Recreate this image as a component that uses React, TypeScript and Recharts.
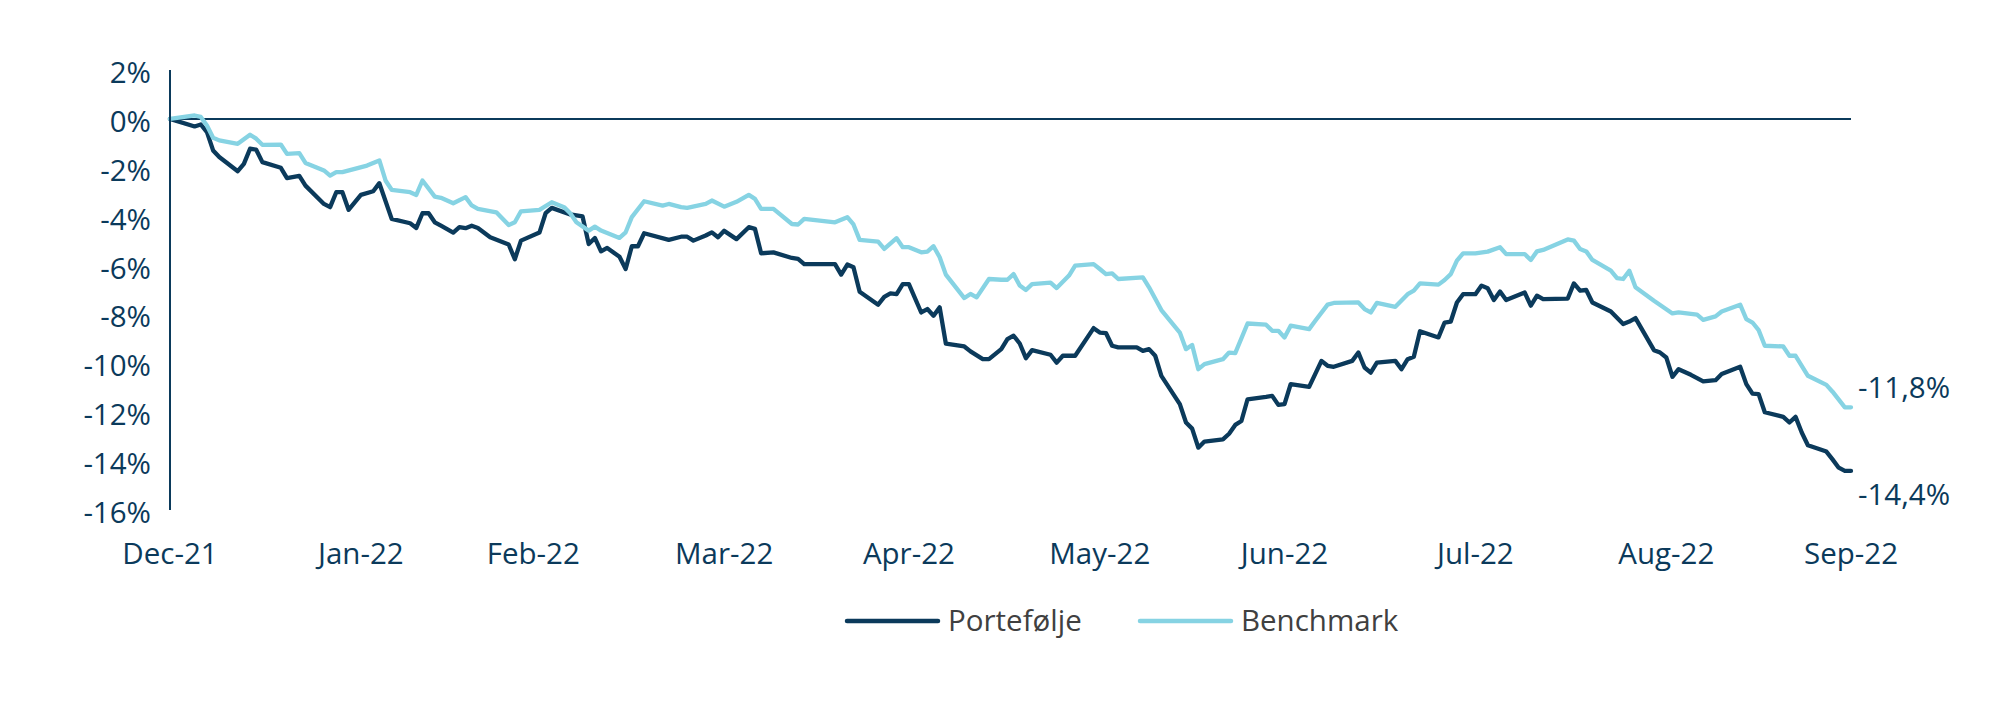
import { LineChart, Line, XAxis, YAxis, ReferenceLine } from 'recharts';

// x positions are days since 31 Dec 2021, values are % return
const monthLabels = ['Dec-21', 'Jan-22', 'Feb-22', 'Mar-22', 'Apr-22', 'May-22', 'Jun-22', 'Jul-22', 'Aug-22', 'Sep-22'];
const monthDays = [0, 31, 59, 90, 120, 151, 181, 212, 243, 273];
const yTicks = [2, 0, -2, -4, -6, -8, -10, -12, -14, -16];

const portDays = [
  0, 4, 5, 6, 7, 8, 11, 12, 13, 14, 15, 18, 19, 21, 22, 25, 26, 27, 28, 29, 31, 33, 34, 36, 39, 40, 41, 42, 43, 44,
  46, 47, 48, 49, 50, 52, 55, 56, 57, 60, 61, 62, 65, 67, 68, 69, 70, 71, 73, 74, 75, 76, 77, 81, 83, 84, 85, 87, 88, 89,
  90, 92, 94, 95, 96, 98, 101, 102, 103, 108, 109, 110, 111, 112, 115, 116, 117, 118, 119, 120, 122, 123, 124, 125, 126, 129, 130, 132, 133,
  135, 136, 137, 138, 139, 140, 143, 144, 145, 147, 150, 151, 152, 153, 154, 157, 158, 159, 160, 161, 164, 165, 166, 167, 168,
  171, 172, 173, 174, 175, 178, 179, 180, 181, 182, 185, 187, 188, 189, 192, 193, 194, 195, 196, 199, 200, 201, 202, 203,
  206, 207, 208, 209, 210, 212, 213, 214, 215, 216, 217, 220, 221, 222, 223, 227, 228, 229, 230, 231, 234, 236, 237, 238,
  241, 242, 243, 244, 245, 247, 249, 251, 252, 255, 256, 257, 258, 259, 262, 263, 264, 265, 266, 269, 270, 271, 272, 273,
];
const portValues = [
  0, -0.31, -0.23, -0.54, -1.29, -1.56, -2.14, -1.84, -1.22, -1.26, -1.77, -2.0, -2.42, -2.33, -2.73, -3.48, -3.61, -3.0, -3.0, -3.72,
  -3.11, -2.96, -2.63, -4.09, -4.27, -4.46, -3.86, -3.86, -4.23, -4.37,
  -4.65, -4.43, -4.47, -4.37, -4.46, -4.84, -5.14, -5.74, -4.98, -4.65, -3.86, -3.64, -3.91, -3.99, -5.12, -4.87, -5.42, -5.28,
  -5.64, -6.14, -5.21, -5.21, -4.68, -4.95, -4.82, -4.82, -4.98, -4.77, -4.64, -4.84,
  -4.58, -4.92, -4.43, -4.5, -5.5, -5.46, -5.69, -5.73, -5.94, -5.94, -6.37, -5.96, -6.07, -7.07, -7.6, -7.28, -7.14, -7.17, -6.76,
  -6.76, -7.92, -7.78, -8.05, -7.71, -9.19, -9.31, -9.51, -9.83, -9.83,
  -9.42, -9.01, -8.87, -9.19, -9.79, -9.46, -9.65, -9.97, -9.69, -9.69, -8.56, -8.74, -8.76, -9.28, -9.35, -9.35, -9.49, -9.42,
  -9.69, -10.51, -11.67, -12.42, -12.67, -13.45, -13.2,
  -13.11, -12.88, -12.52, -12.36, -11.47, -11.37, -11.33, -11.7, -11.67, -10.85, -10.96, -9.9, -10.1, -10.14, -9.9, -9.56,
  -10.17, -10.38, -9.97, -9.9, -10.24, -9.83, -9.73, -8.69,
  -8.94, -8.33, -8.29, -7.51, -7.17, -7.17, -6.82, -6.93, -7.41, -7.06, -7.41, -7.1, -7.64, -7.23, -7.37, -7.35, -6.73, -7.03,
  -7.0, -7.51, -7.88, -8.39, -8.29, -8.15,
  -9.46, -9.56, -9.76, -10.55, -10.24, -10.47, -10.74, -10.69, -10.44, -10.14, -10.85, -11.24, -11.26, -12.0, -12.19, -12.42,
  -12.19, -12.83, -13.35, -13.61, -13.93, -14.27, -14.4, -14.4,
];

const benchDays = [
  0, 4, 5, 6, 7, 8, 11, 13, 14, 15, 18, 19, 21, 22, 25, 26, 27, 28, 32, 34, 35, 36, 39, 40, 41, 43, 44,
  46, 48, 49, 50, 53, 55, 56, 57, 60, 62, 64, 65, 66, 68, 69, 70, 73, 74, 75, 77, 80, 81, 83, 84, 87, 88,
  90, 92, 94, 95, 96, 98, 101, 102, 103, 108, 110, 111, 112, 115, 116, 118, 119, 120, 122, 123, 124, 125, 126, 129, 130, 131, 133,
  135, 136, 137, 138, 139, 140, 143, 144, 146, 147, 150, 151, 152, 153, 154, 158, 159, 161, 164, 165, 166, 167, 168,
  171, 172, 173, 175, 178, 179, 180, 181, 182, 185, 186, 188, 189, 193, 194, 195, 196, 199, 201, 202, 203,
  206, 207, 208, 209, 210, 212, 214, 216, 217, 220, 221, 222, 223, 227, 228, 229, 230, 231, 234, 235, 236, 237, 238,
  241, 244, 245, 248, 249, 251, 252, 255, 256, 257, 258, 259, 262, 263, 264, 265, 266, 269, 270, 272, 273,
];
const benchValues = [
  0, 0.14, 0.08, -0.27, -0.77, -0.88, -1.02, -0.65, -0.81, -1.06, -1.05, -1.43, -1.4, -1.8, -2.11, -2.32, -2.18, -2.18, -1.91,
  -1.7, -2.52, -2.9, -3.0, -3.11, -2.52, -3.18, -3.23,
  -3.45, -3.2, -3.54, -3.68, -3.82, -4.34, -4.23, -3.78, -3.72, -3.41, -3.61, -3.86, -4.23, -4.57, -4.41, -4.57, -4.87, -4.64,
  -4.02, -3.37, -3.55, -3.48, -3.61, -3.64, -3.48, -3.34,
  -3.59, -3.39, -3.11, -3.27, -3.68, -3.68, -4.3, -4.32, -4.09, -4.23, -4.02, -4.32, -4.95, -5.02, -5.32, -4.88, -5.25, -5.25,
  -5.46, -5.43, -5.21, -5.66, -6.37, -7.33, -7.16, -7.3, -6.55,
  -6.58, -6.58, -6.35, -6.82, -7.0, -6.76, -6.7, -6.92, -6.41, -6.0, -5.94, -6.14, -6.35, -6.32, -6.55, -6.48, -6.89, -7.82,
  -8.74, -9.42, -9.25, -10.24, -10.03,
  -9.83, -9.56, -9.58, -8.37, -8.42, -8.67, -8.67, -8.94, -8.46, -8.6, -8.26, -7.6, -7.53, -7.51, -7.78, -7.92, -7.53, -7.69,
  -7.17, -7.03, -6.73,
  -6.78, -6.59, -6.35, -5.8, -5.5, -5.5, -5.43, -5.25, -5.53, -5.53, -5.77, -5.42, -5.36, -4.93, -4.98, -5.32, -5.42, -5.77,
  -6.21, -6.51, -6.55, -6.21, -6.89,
  -7.44, -7.96, -7.92, -8.01, -8.22, -8.08, -7.88, -7.6, -8.19, -8.33, -8.64, -9.28, -9.31, -9.69, -9.69, -10.1, -10.51,
  -10.88, -11.16, -11.8, -11.8,
];

const portData = portDays.map((day, i) => ({ day, value: portValues[i] }));
const benchData = benchDays.map((day, i) => ({ day, value: benchValues[i] }));

const NAVY = '#0B3A5B';
const LIGHT = '#86D3E3';
const FONT = '"Open Sans", sans-serif';
const FONT_SIZE = 29.5;

const formatPct = (v: number) => `${v.toFixed(1).replace('.', ',')}%`;

const YTick = (props: any) => {
  const { x, y, payload } = props;
  return (
    <text x={x} y={y + 13} textAnchor="end" fill={NAVY} fontSize={FONT_SIZE} fontFamily={FONT}>
      {`${payload.value}%`}
    </text>
  );
};

const XTick = (props: any) => {
  const { x, y, payload } = props;
  const label = monthLabels[monthDays.indexOf(payload.value)] ?? '';
  return (
    <text x={x} y={y + 54} textAnchor="middle" fill={NAVY} fontSize={FONT_SIZE} fontFamily={FONT}>
      {label}
    </text>
  );
};

// value label next to the last point of a series
const endLabel = (lastIndex: number, text: string, dy: number) => (props: any) => {
  if (props.index !== lastIndex) return <g />;
  return (
    <text x={Number(props.x) + 7} y={Number(props.y) + dy} fill={NAVY} fontSize={FONT_SIZE} fontFamily={FONT}>
      {text}
    </text>
  );
};

const legendItems = [
  { name: 'Portefølje', color: NAVY, x: 847 },
  { name: 'Benchmark', color: LIGHT, x: 1140 },
];

export default function App() {
  return (
    <div style={{ position: 'relative', width: 2014, height: 715, margin: -8, background: '#fff' }}>
      <LineChart width={2014} height={715} margin={{ top: 70, right: 163, bottom: 145, left: 90 }}>
        <XAxis
          type="number"
          dataKey="day"
          domain={[0, 273]}
          ticks={monthDays}
          interval={0}
          axisLine={false}
          tickLine={false}
          tickSize={0}
          tickMargin={0}
          height={60}
          tick={<XTick />}
        />
        <YAxis
          type="number"
          domain={[-16, 2]}
          ticks={yTicks}
          interval={0}
          width={80}
          axisLine={{ stroke: NAVY, strokeWidth: 2 }}
          tickLine={false}
          tickSize={0}
          tickMargin={19}
          tick={<YTick />}
        />
        <ReferenceLine y={0} stroke={NAVY} strokeWidth={2} />
        <Line
          data={portData}
          dataKey="value"
          name="Portefølje"
          type="linear"
          stroke={NAVY}
          strokeWidth={4.3}
          strokeLinejoin="round"
          strokeLinecap="round"
          dot={false}
          isAnimationActive={false}
          label={endLabel(portData.length - 1, formatPct(portValues[portValues.length - 1]), 34)}
        />
        <Line
          data={benchData}
          dataKey="value"
          name="Benchmark"
          type="linear"
          stroke={LIGHT}
          strokeWidth={4.3}
          strokeLinejoin="round"
          strokeLinecap="round"
          dot={false}
          isAnimationActive={false}
          label={endLabel(benchData.length - 1, formatPct(benchValues[benchValues.length - 1]), -9)}
        />
      </LineChart>
      <svg
        width={2014}
        height={60}
        style={{ position: 'absolute', left: 0, top: 590, pointerEvents: 'none' }}
      >
        {legendItems.map((item) => (
          <g key={item.name}>
            <line x1={item.x} x2={item.x + 91} y1={31} y2={31} stroke={item.color} strokeWidth={4.5} strokeLinecap="round" />
            <text x={item.x + 101} y={41} fill="#404040" fontSize={FONT_SIZE} fontFamily={FONT}>
              {item.name}
            </text>
          </g>
        ))}
      </svg>
    </div>
  );
}
